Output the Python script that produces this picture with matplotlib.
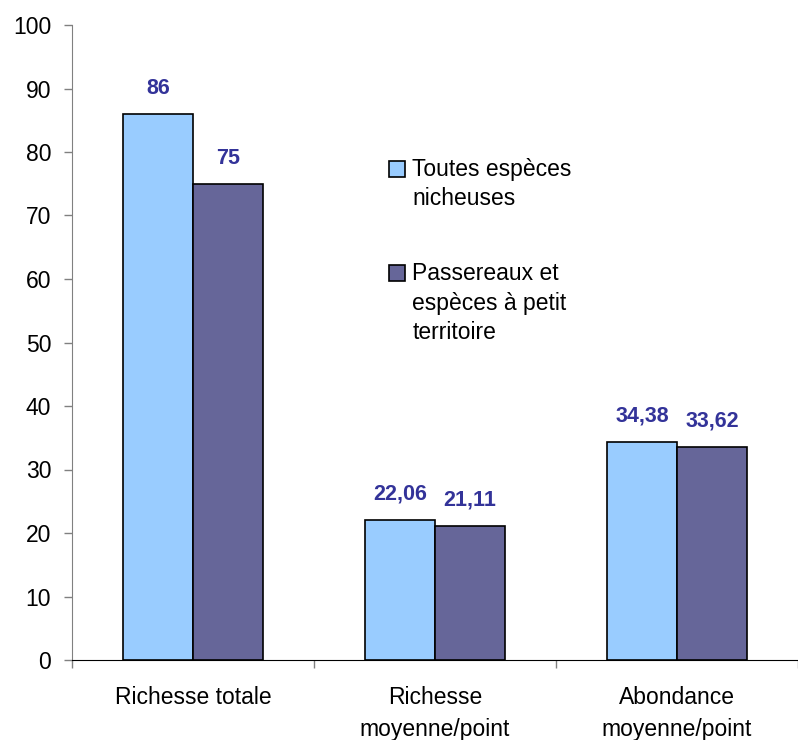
import matplotlib
matplotlib.use('Agg')
import matplotlib.pyplot as plt
from matplotlib.legend_handler import HandlerPatch
from matplotlib.patches import Rectangle
import numpy as np

# Données
categories = ['Richesse totale', 'Richesse\nmoyenne/point', 'Abondance\nmoyenne/point']
toutes_especes = [86, 22.06, 34.38]
passereaux = [75, 21.11, 33.62]
series_labels = ['Toutes espèces\nnicheuses', 'Passereaux et\nespèces à petit\nterritoire']

plt.rcParams['font.family'] = ['Liberation Sans', 'DejaVu Sans']

fig = plt.figure(figsize=(7.98, 7.40), dpi=100)
ax = fig.add_axes([72 / 798, 1 - 660 / 740, 726 / 798, 635 / 740])

x = np.arange(len(categories))
w = 0.29
b1 = ax.bar(x - w / 2, toutes_especes, w, color='#99CCFF', edgecolor='black', linewidth=1.2,
            label=series_labels[0], zorder=3)
b2 = ax.bar(x + w / 2, passereaux, w, color='#666699', edgecolor='black', linewidth=1.2,
            label=series_labels[1], zorder=3)

# Étiquettes de valeurs
for bars, vals in [(b1, toutes_especes), (b2, passereaux)]:
    for rect, v in zip(bars, vals):
        txt = f'{v:g}'.replace('.', ',')
        ax.annotate(txt, (rect.get_x() + rect.get_width() / 2, rect.get_height()),
                    xytext=(0, 18.5), textcoords='offset points', ha='center', va='center',
                    fontsize=15.5, fontweight='bold', color='#333399')

ax.set_xlim(-0.5, 2.5)
ax.set_ylim(0, 100)
ax.set_yticks(np.arange(0, 101, 10))
ax.tick_params(axis='y', direction='out', length=6, width=1, color='#808080', pad=9, labelsize=16.5)

ax.set_xticks(x)
ax.set_xticklabels(categories, fontsize=16.5, linespacing=1.5)
ax.tick_params(axis='x', which='major', length=0, pad=19)
ax.set_xticks([-0.5, 0.5, 1.5, 2.5], minor=True)
ax.tick_params(axis='x', which='minor', direction='out', length=6, width=1, color='#808080')

for s in ['top', 'right']:
    ax.spines[s].set_visible(False)
ax.spines['left'].set_color('#808080')
ax.spines['bottom'].set_color('black')


# petit carré de légende, un peu sous le haut du texte
def carre(legend, orig_handle, xdescent, ydescent, width, height, fontsize):
    return Rectangle((-xdescent, -ydescent), width, 0.7 * fontsize)


leg = ax.legend(handles=[b1.patches[0], b2.patches[0]], labels=series_labels,
                handler_map={Rectangle: HandlerPatch(patch_func=carre)},
                loc='upper left', bbox_to_anchor=(0.436, 0.791), frameon=False,
                prop={'size': 16.5}, borderpad=0, borderaxespad=0,
                handlelength=0.7, handleheight=0.92, handletextpad=0.33,
                labelspacing=2.25)
for t in leg.get_texts():
    t.set_linespacing(1.37)
# poignée alignée sur la première ligne
for col in leg._legend_handle_box.get_children():
    for hp in col.get_children():
        hp.align = 'top'

fig.savefig('out.png', dpi=100)
